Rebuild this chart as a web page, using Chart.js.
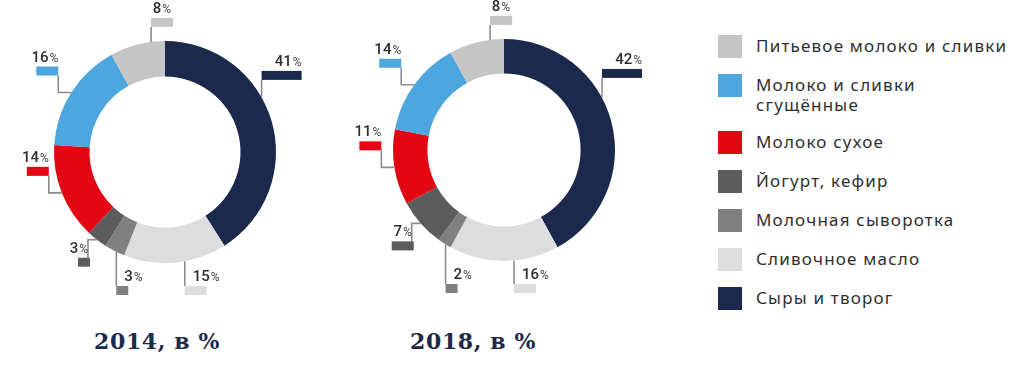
<!DOCTYPE html>
<html>
<head>
<meta charset="utf-8">
<script src="https://cdn.jsdelivr.net/npm/chart.js@4.4.0/dist/chart.umd.min.js"></script>
<style>
  html, body { margin: 0; padding: 0; background: #fff; }
  #wrap { position: relative; width: 1024px; height: 372px; overflow: hidden; }
  canvas { position: absolute; top: 0; }
  .title { position: absolute; top: 329px; transform: translateX(-50%); white-space: nowrap;
    font: bold 22px "DejaVu Serif"; letter-spacing: 0.6px; color: #1c2a4a; line-height: 24px; }
  #legend { position: absolute; left: 718px; top: 35px; display: flex; flex-direction: column; gap: 16px; }
  .row { display: flex; align-items: flex-start; }
  .box { width: 24px; height: 23px; flex: none; }
  .txt { margin-left: 14px; padding-top: 1px; white-space: pre-line; font: 17px "Noto Sans";
    letter-spacing: 1.2px; line-height: 20px; color: #2f2f2f; }
</style>
</head>
<body>
<div id="wrap">
  <canvas id="c2014" width="340" height="320" style="left:0"></canvas>
  <canvas id="c2018" width="340" height="320" style="left:340px"></canvas>
  <div id="legend"></div>
</div>
<script>
// legend order (top to bottom)
const categories = ['Питьевое молоко и сливки', 'Молоко и сливки\nсгущённые', 'Молоко сухое',
  'Йогурт, кефир', 'Молочная сыворотка', 'Сливочное масло', 'Сыры и творог'];
const share2014 = [8, 16, 14, 3, 3, 15, 41];
const share2018 = [8, 14, 11, 7, 2, 16, 42];
const chartTitles = ['2014, в %', '2018, в %'];

const colors = ['#c5c5c5', '#4ea6df', '#e30613', '#5c5c5c', '#808080', '#dddddd', '#1b2a4c'];

// leader lines + little coloured bars with the value on top
const calloutPlugin = {
  id: 'callouts',
  afterDatasetsDraw(chart) {
    const ctx = chart.ctx;
    const ds = chart.data.datasets[0];
    chart.getDatasetMeta(0).data.forEach((arc, i) => {
      const { x, y, startAngle, endAngle, outerRadius: r } =
        arc.getProps(['x', 'y', 'startAngle', 'endAngle', 'outerRadius'], true);
      const mid = (startAngle + endAngle) / 2;
      const h0 = Math.cos(mid), v0 = Math.sin(mid);
      let side;
      if (h0 >= 0.5) side = 'right';
      else if (v0 < 0 && h0 > -0.5) side = 'top';
      else if (v0 >= 0 && h0 > -0.56) side = 'bottom';
      else if (v0 >= 0 && h0 > -0.8) side = 'lowleft';
      else side = 'left';
      // where along the arc the leader starts
      const f = side === 'top' ? 0.75 : (side === 'right' || side === 'bottom') ? 0.41 : 0.5;
      const a = startAngle + (endAngle - startAngle) * f;
      const ax = x + Math.cos(a) * r, ay = y + Math.sin(a) * r;
      const value = ds.data[i];
      const w = value >= 30 ? 40 : value >= 5 ? 22 : 12;
      const bh = 9;
      let pts, bx, by, tx, align;
      if (side === 'right') {
        by = y - r * 0.69 - bh / 2;
        pts = [[ax, ay], [ax, by + bh]];
        bx = ax; tx = ax + w; align = 'right';
      } else if (side === 'top') {
        by = ay - 15 - bh;
        pts = [[ax, ay], [ax, by + bh]];
        bx = ax; tx = ax + w - 2; align = 'right';
      } else if (side === 'bottom') {
        by = y + r + 23;
        pts = [[ax, ay], [ax, by]];
        bx = ax; tx = ax + 8; align = 'left';
      } else if (side === 'lowleft') {
        const lx = ax - 9;
        by = ay + 18;
        pts = [[ax, ay], [lx, ay], [lx, by]];
        bx = lx + 2 - w; tx = lx; align = 'right';
      } else {
        const lx = ax - 13;
        by = ay - 17 - bh;
        pts = [[ax, ay], [lx, ay], [lx, by + bh]];
        bx = lx - w; tx = lx; align = 'right';
      }
      ctx.save();
      ctx.strokeStyle = '#8c8c8c';
      ctx.lineWidth = 1.6;
      ctx.beginPath();
      pts.forEach((p, k) => k ? ctx.lineTo(p[0], p[1]) : ctx.moveTo(p[0], p[1]));
      ctx.stroke();
      ctx.fillStyle = ds.backgroundColor[i];
      ctx.fillRect(bx, by, w, bh);

      const num = String(value);
      const numFont = '500 15px Roboto', pctFont = '12px Roboto';
      ctx.font = numFont;
      const numW = ctx.measureText(num).width;
      ctx.font = pctFont;
      const pctW = ctx.measureText('%').width;
      const sx = align === 'right' ? tx - numW - pctW - 1 : tx;
      ctx.fillStyle = '#2e2e2e';
      ctx.textBaseline = 'alphabetic';
      ctx.textAlign = 'left';
      ctx.font = numFont;
      ctx.fillText(num, sx, by - 5);
      ctx.font = pctFont;
      ctx.fillStyle = '#444';
      ctx.fillText('%', sx + numW + 1, by - 5);
      ctx.restore();
    });
  }
};

const makeDoughnut = (id, values, padding, cutout) => new Chart(document.getElementById(id), {
  type: 'doughnut',
  data: {
    labels: [...categories].reverse(),
    datasets: [{
      data: [...values].reverse(),
      backgroundColor: [...colors].reverse(),
      borderWidth: 0,
      hoverOffset: 0
    }]
  },
  options: {
    responsive: false,
    animation: false,
    cutout: cutout,
    layout: { padding: padding },
    plugins: { legend: { display: false }, tooltip: { enabled: false } }
  },
  plugins: [calloutPlugin]
});

makeDoughnut('c2014', share2014, { left: 54, right: 64, top: 41, bottom: 57 }, '68%');
makeDoughnut('c2018', share2018, { left: 53, right: 65, top: 39, bottom: 59 }, '69%');

const wrap = document.getElementById('wrap');
[157, 473].forEach((cx, i) => {
  const t = document.createElement('div');
  t.className = 'title';
  t.style.left = cx + 'px';
  t.textContent = chartTitles[i];
  wrap.appendChild(t);
});

const legend = document.getElementById('legend');
categories.forEach((name, i) => {
  const row = document.createElement('div');
  row.className = 'row';
  row.innerHTML = '<div class="box" style="background:' + colors[i] + '"></div><div class="txt"></div>';
  row.lastChild.textContent = name;
  legend.appendChild(row);
});
</script>
</body>
</html>
